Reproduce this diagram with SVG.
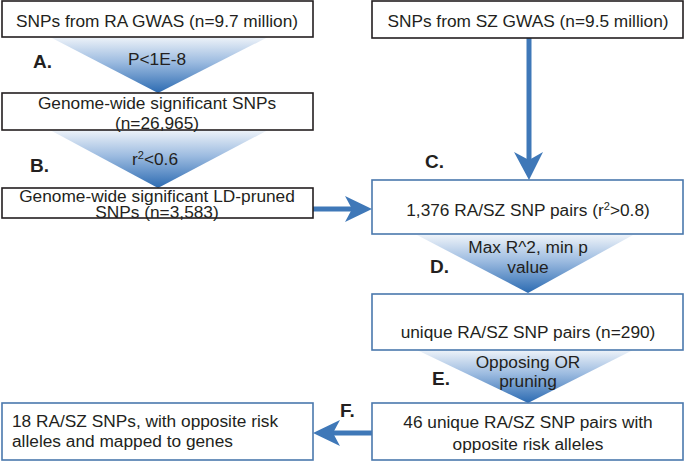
<svg xmlns="http://www.w3.org/2000/svg" width="685" height="462" viewBox="0 0 685 462">
<defs>
<linearGradient id="fun" x1="0" y1="0" x2="0" y2="1">
<stop offset="0" stop-color="#eef3f9"/>
<stop offset="0.45" stop-color="#9cbbe0"/>
<stop offset="1" stop-color="#2c6bb2"/>
</linearGradient>
<style>
.bk{fill:#fff;stroke:#231f20;stroke-width:1.6}
.bl{fill:#fff;stroke:#4a78ad;stroke-width:1.6}
.t{font-family:"Liberation Sans",Arial,sans-serif;font-size:17.3px;fill:#231f20;text-anchor:middle}
.tl{font-family:"Liberation Sans",Arial,sans-serif;font-size:17.3px;fill:#231f20}
.lab{font-family:"Liberation Sans",Arial,sans-serif;font-size:19px;font-weight:bold;fill:#231f20}
.fun{fill:url(#fun)}
.ar{fill:#3f78b8}
.sh{stroke:#3f78b8;stroke-width:5;fill:none}
</style>
</defs>
<g id="funnels">
<polygon class="fun" points="50,37 268,37 158,93"/>
<polygon class="fun" points="50,130 268,130 158,188"/>
<polygon class="fun" points="417,235 633,235 528,293"/>
<polygon class="fun" points="417,350 633,350 528,403"/>
</g>
<g id="connectors">
<line class="sh" x1="529" y1="38" x2="529" y2="160"/>
<polygon class="ar" points="529,180 514,152 529,160 543,152"/>
<line class="sh" x1="313" y1="209" x2="352" y2="209"/>
<polygon class="ar" points="372,209 345,196 352,209 345,222"/>
<line class="sh" x1="372" y1="433" x2="333" y2="433"/>
<polygon class="ar" points="313,433 340,420 333,433 340,446"/>
</g>
<g id="n1"><rect class="bk" x="2" y="1" width="311" height="36"/><text class="t" x="157" y="27">SNPs from RA GWAS (n=9.7 million)</text></g>
<g id="n2"><rect class="bk" x="2" y="93" width="311" height="37"/><text class="t" x="157" y="109">Genome-wide significant SNPs</text><text class="t" x="157" y="129">(n=26,965)</text></g>
<g id="n3"><rect class="bk" x="2" y="188" width="311" height="30"/><text class="t" x="157" y="202" font-size="16.5px">Genome-wide significant LD-pruned</text><text class="t" x="157" y="218" font-size="16.5px">SNPs (n=3,583)</text></g>
<g id="n4"><rect class="bk" x="372" y="1" width="311" height="37"/><text class="t" x="528" y="27">SNPs from SZ GWAS (n=9.5 million)</text></g>
<g id="n5"><rect class="bl" x="372" y="180" width="311" height="54"/><text class="t" x="528" y="216">1,376 RA/SZ SNP pairs (r<tspan font-size="11" dy="-6">2</tspan><tspan dy="6">&gt;0.8)</tspan></text></g>
<g id="n6"><rect class="bl" x="372" y="294" width="311" height="56"/><text class="t" x="528" y="338">unique RA/SZ SNP pairs (n=290)</text></g>
<g id="n7"><rect class="bl" x="372" y="403" width="311" height="57"/><text class="t" x="528" y="428">46 unique RA/SZ SNP pairs with</text><text class="t" x="528" y="450">opposite risk alleles</text></g>
<g id="n8"><rect class="bl" x="2" y="403" width="311" height="57"/><text class="tl" x="12" y="427">18 RA/SZ SNPs, with opposite risk</text><text class="tl" x="12" y="447">alleles and mapped to genes</text></g>
<g id="labels">
<text class="t" x="157" y="65">P&lt;1E-8</text>
<text class="t" x="155" y="165">r<tspan font-size="11" dy="-6">2</tspan><tspan dy="6">&lt;0.6</tspan></text>
<text class="t" x="528" y="253">Max R^2, min p</text>
<text class="t" x="528" y="273">value</text>
<text class="t" x="528" y="368">Opposing OR</text>
<text class="t" x="528" y="387">pruning</text>
<text class="lab" x="33" y="68">A.</text>
<text class="lab" x="30" y="172">B.</text>
<text class="lab" x="425" y="168">C.</text>
<text class="lab" x="430" y="273">D.</text>
<text class="lab" x="432" y="385">E.</text>
<text class="lab" x="340" y="417">F.</text>
</g>
</svg>
